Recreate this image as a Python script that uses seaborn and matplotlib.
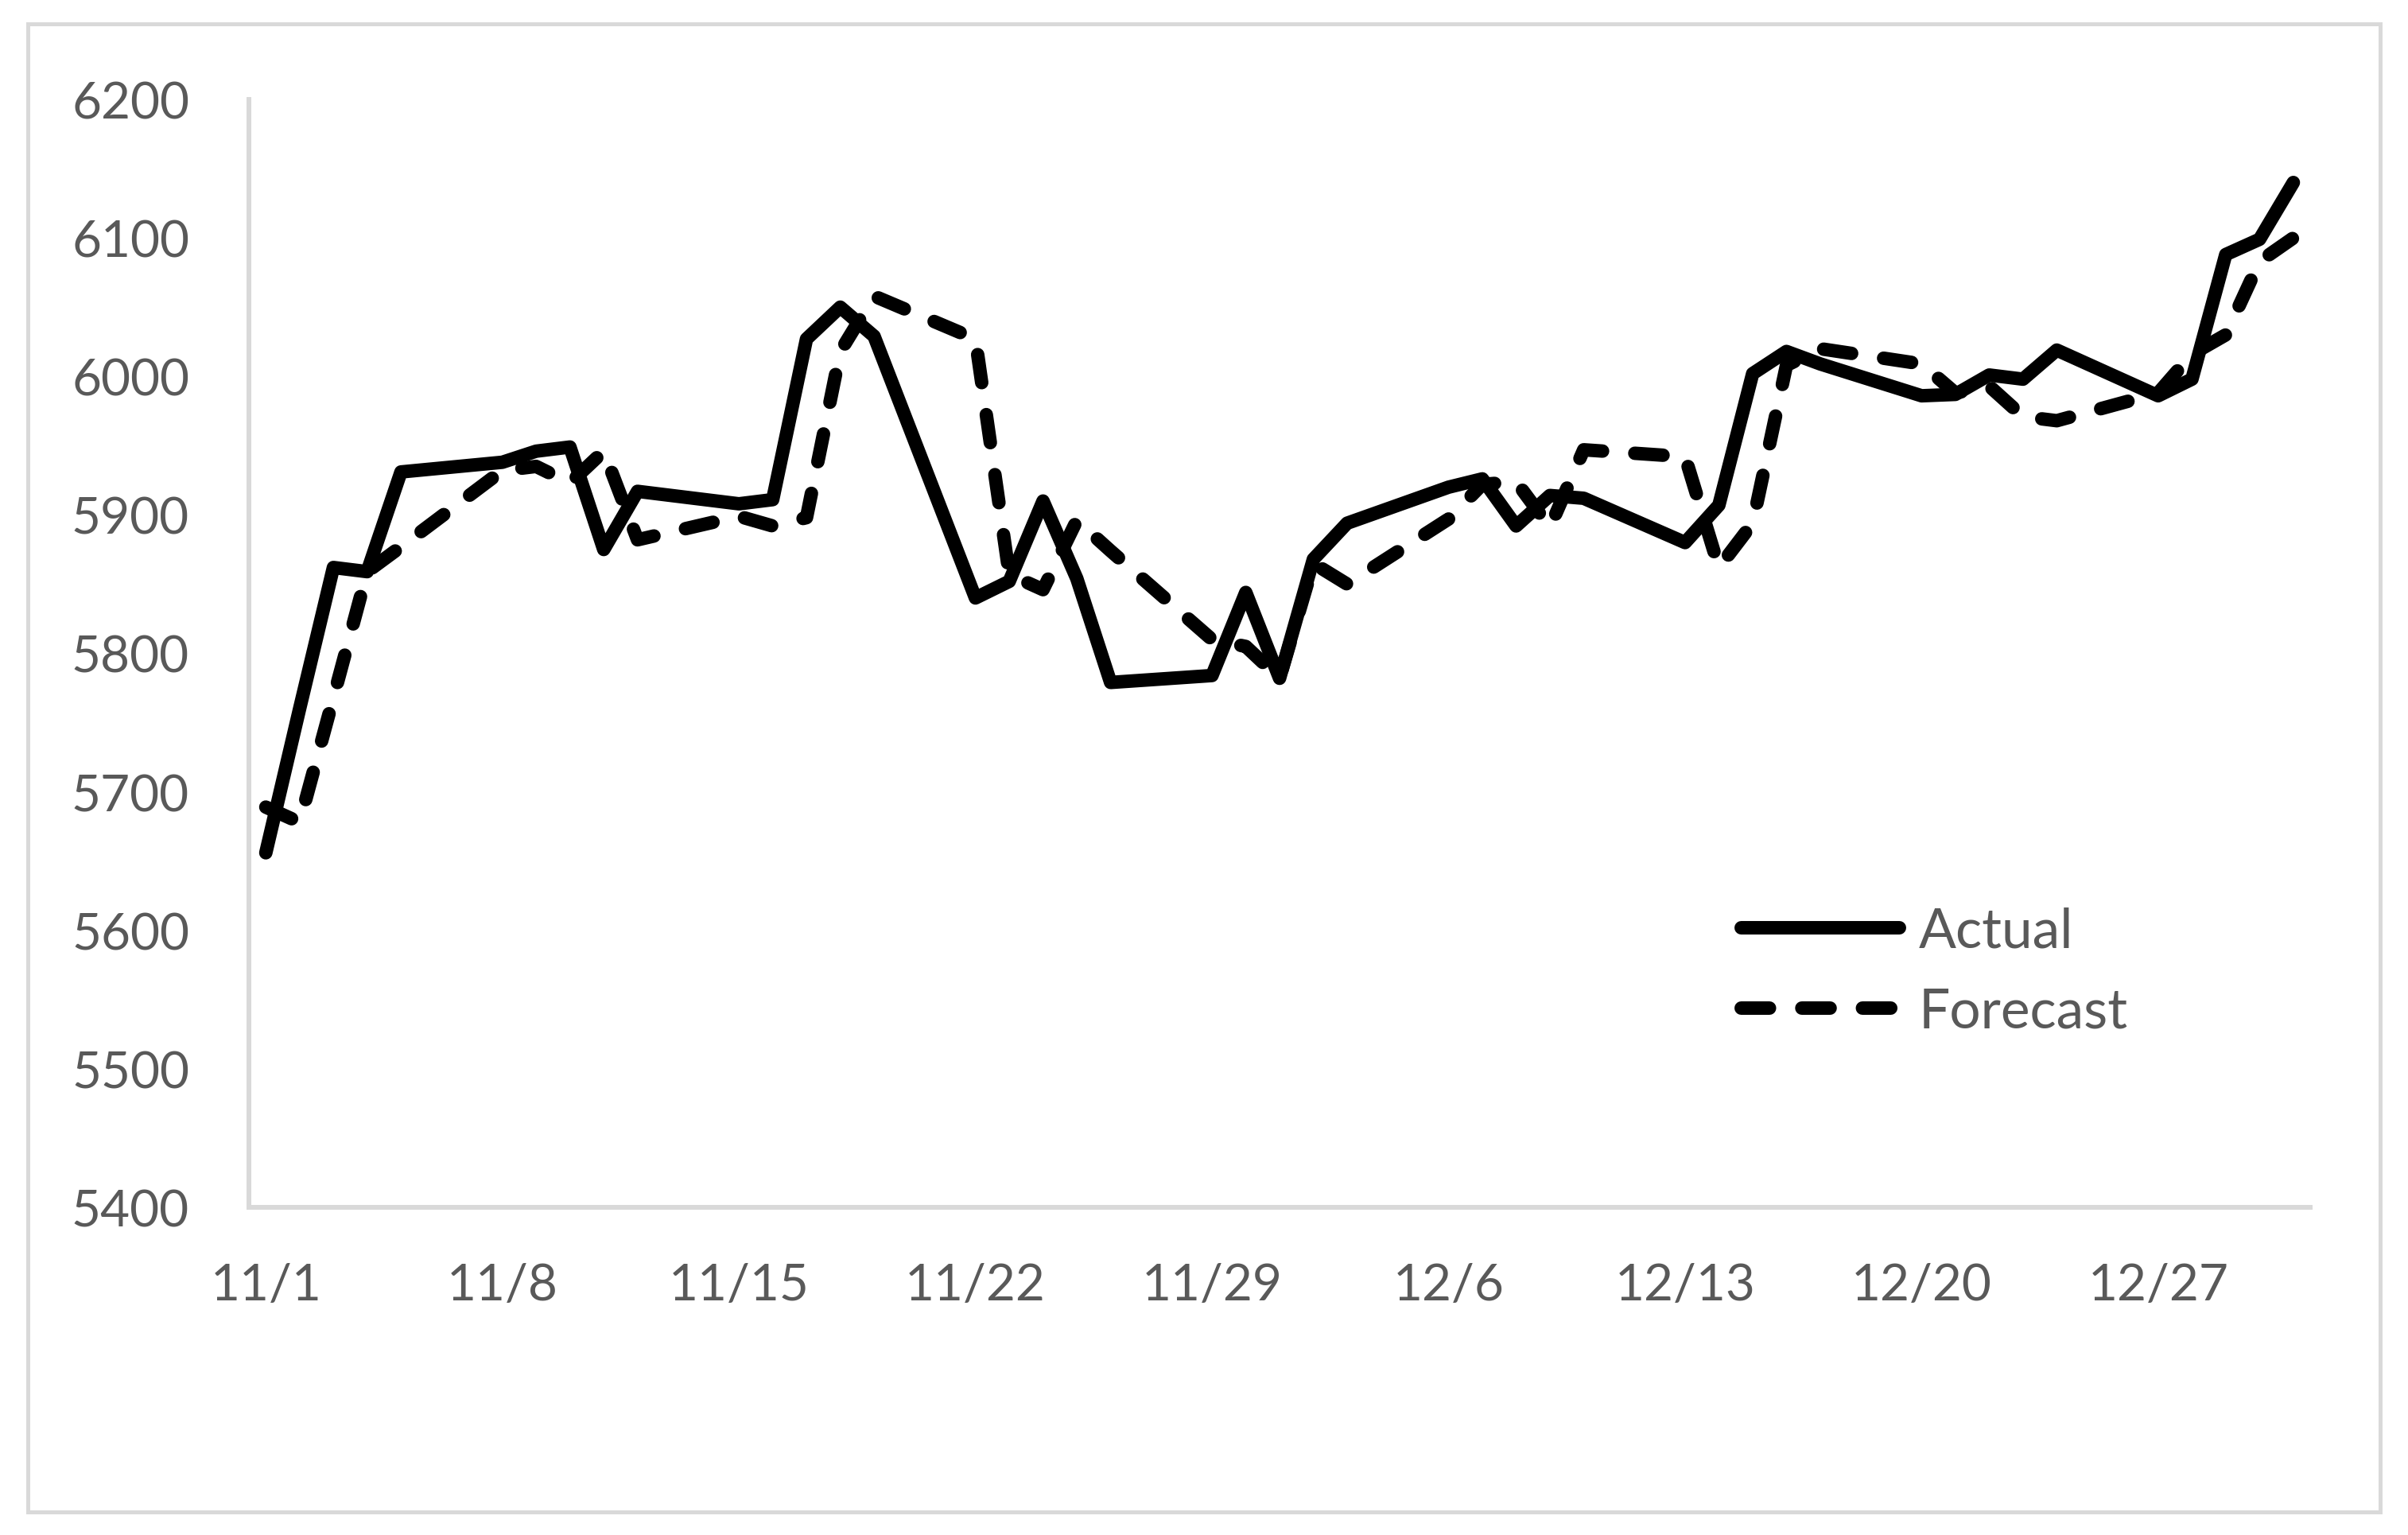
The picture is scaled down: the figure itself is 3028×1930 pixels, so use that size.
import matplotlib
matplotlib.use('Agg')
import matplotlib.pyplot as plt
import matplotlib.dates as mdates
from matplotlib.patches import Rectangle
from matplotlib.ticker import FixedLocator, FuncFormatter
import numpy as np
import pandas as pd
import seaborn as sns

# trading days, 1 Nov - 31 Dec 2021
dates = pd.bdate_range('2021-11-01', '2021-12-31')

actual = [5656, 5760, 5862, 5859, 5931,
          5938, 5946, 5949, 5875, 5917,
          5908, 5911, 6027, 6050, 6029,
          5840, 5852, 5910, 5854, 5779,
          5784, 5844, 5782, 5868, 5894,
          5920, 5926, 5892, 5914, 5912,
          5880, 5907, 6002, 6018, 6009,
          5986, 5987, 6001, 5998, 6019,
          5986, 5998, 6088, 6099, 6140]

forecast = [5689, 5678, 5768, 5859, 5877,
            5932, 5935, 5923, 5946, 5882,
            5899, 5892, 5898, 6018, 6058,
            6027, 5857, 5846, 5896, 5874,
            5810, 5805, 5782, 5865, 5850,
            5897, 5922, 5924, 5891, 5947,
            5942, 5862, 5894, 6008, 6020,
            6009, 5988, 5993, 5971, 5968,
            5988, 6016, 6030, 6083, 6100]

series_names = ['Actual', 'Forecast']
y_ticks = list(range(5400, 6201, 100))
week_starts = pd.date_range('2021-11-01', '2021-12-27', freq='7D')

df = pd.DataFrame({
    'date': list(dates) * 2,
    'value': actual + forecast,
    'series': ['Actual'] * len(actual) + ['Forecast'] * len(forecast),
})
# excel date axis puts each day in the middle of its slot
df['date'] = df['date'] + pd.Timedelta(hours=12)

sns.set_style('white')
plt.rcParams['font.family'] = ['Lato', 'DejaVu Sans']

grey = '#D9D9D9'
txt = '#595959'

fig = plt.figure(figsize=(30.28, 19.31), dpi=100)
ax = fig.add_axes([0.10337, 0.21336, 0.9594 - 0.10337, 0.93475 - 0.21336])

sns.lineplot(data=df, x='date', y='value', style='series', style_order=series_names,
             dashes={'Actual': '', 'Forecast': (2.1, 2.4)}, color='black',
             linewidth=12.2, legend=False, ax=ax,
             solid_capstyle='round', dash_capstyle='round',
             solid_joinstyle='round', dash_joinstyle='round')

ax.set_xlim(pd.Timestamp('2021-11-01'), pd.Timestamp('2022-01-01'))
ax.set_ylim(5400, 6200)
ax.set_yticks(y_ticks)

ax.xaxis.set_major_locator(FixedLocator(mdates.date2num(week_starts)))
ax.xaxis.set_minor_locator(FixedLocator(mdates.date2num(week_starts + pd.Timedelta(hours=12))))
ax.xaxis.set_major_formatter(FuncFormatter(lambda v, p: ''))
ax.xaxis.set_minor_formatter(FuncFormatter(
    lambda v, p: f"{mdates.num2date(v).month}/{mdates.num2date(v).day}"))

ax.set_xlabel('')
ax.set_ylabel('')

for side in ['top', 'right']:
    ax.spines[side].set_visible(False)
for side in ['left', 'bottom']:
    ax.spines[side].set_color(grey)
    ax.spines[side].set_linewidth(4.3)

ax.tick_params(axis='y', which='major', direction='in', length=14.4, width=4.3,
               color=grey, labelsize=46, labelcolor=txt, pad=54)
ax.tick_params(axis='x', which='major', direction='in', length=15.5, width=3.6,
               color=grey, labelbottom=False)
ax.tick_params(axis='x', which='minor', length=0, labelsize=46, labelcolor=txt, pad=50)

handles = ax.get_lines()[:2]
ax.legend(handles, series_names, loc='upper left', bbox_to_anchor=(0.7238, 0.272),
          frameon=False, fontsize=50, labelcolor=txt, handlelength=2.87,
          handletextpad=0.35, labelspacing=0.55, borderpad=0, borderaxespad=0)

# light border round the whole chart
fig.patches.append(Rectangle((35 / 3028, 1 - 1902 / 1931), (2993 - 35) / 3028,
                             (1902 - 31) / 1931, transform=fig.transFigure,
                             fill=False, edgecolor=grey, linewidth=3.6))

fig.savefig('out.png', dpi=100, facecolor='white')
